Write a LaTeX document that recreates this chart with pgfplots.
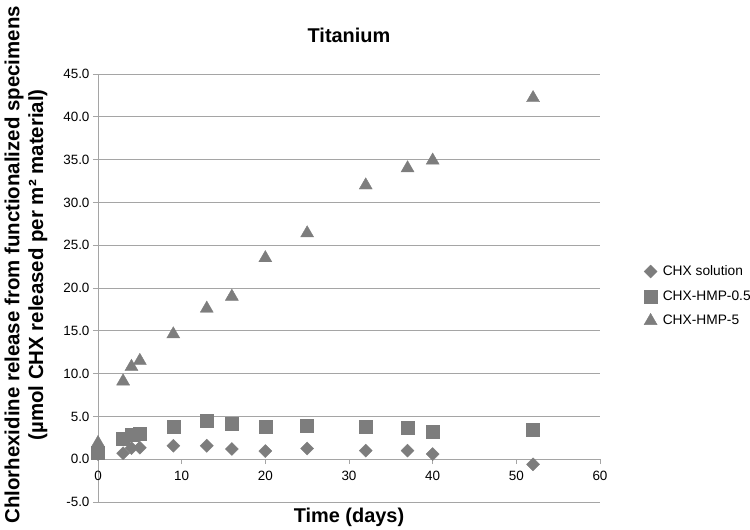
\documentclass[border=0pt]{standalone}
\usepackage{pgfplots}
\pgfplotsset{compat=1.18}
\usepackage{fontspec}
\setmainfont{Liberation Sans}
\definecolor{mk}{RGB}{125,125,125}
\definecolor{gr}{RGB}{165,165,165}
\begin{document}
\begin{tikzpicture}
\begin{axis}[
  at={(0,0)}, anchor=south west,
  scale only axis, width=502bp, height=428bp,
  xmin=0, xmax=60, ymin=-5, ymax=45,
  axis x line*=middle, axis y line*=left,
  hide obscured x ticks=false, hide obscured y ticks=false,
  axis line style={gr, line width=0.8pt},
  xtick={0,10,...,60}, ytick={-5,0,...,45},
  ymajorgrids, grid style={gr, line width=0.8pt},
  tick align=outside, major tick length=5bp,
  tick style={gr, line width=0.8pt},
  /pgf/number format/assume math mode=true,
  yticklabel style={/pgf/number format/.cd, fixed, fixed zerofill, precision=1},
  xticklabel style={yshift=-3bp},
  ticklabel style={font=\fontsize{13.5}{15}\selectfont},
  title={Titanium},
  title style={font=\fontsize{20}{22}\selectfont\bfseries, at={(axis description cs:0.5,1)}, anchor=base, yshift=26bp},
  xlabel={Time (days)},
  xlabel style={font=\fontsize{20}{22}\selectfont\bfseries, at={(axis description cs:0.5,0)}, anchor=base, yshift=-20bp},
  ylabel={Chlorhexidine release from functionalized specimens\\(µmol CHX released per m² material)},
  ylabel style={font=\fontsize{20.5}{24}\selectfont\bfseries, align=center, at={(axis description cs:-0.1434,0.554)}, anchor=center, rotate=0},
  legend style={at={(axis description cs:1.076,0.481)}, anchor=west, draw=none, fill=none,
    font=\fontsize{13.8}{16}\selectfont, row sep=9.5bp},
  legend cell align=left,
  legend image code/.code={\draw[#1] (0.32cm,0cm) -- plot coordinates {(0.32cm,0cm)}; \path (0cm,0cm) (0.32cm,0cm) ++(10bp,0pt);},
]
\addplot[only marks, mark=square*, mark size=4.6bp, mark options={rotate=45, fill=mk, draw=mk}] coordinates {
(0,0.6) (3,0.7) (4,1.3) (5,1.35) (9,1.57) (13,1.57) (16,1.2) (20,0.95) (25,1.25) (32,1.0) (37,1.0) (40,0.6) (52,-0.6)};
\addlegendentry{CHX solution}
\addplot[only marks, mark=square*, mark size=6.5bp, mark options={fill=mk, draw=mk}] coordinates {
(0,0.8) (3,2.4) (4,2.85) (5,3.0) (9,3.85) (13,4.5) (16,4.1) (20,3.85) (25,3.9) (32,3.8) (37,3.7) (40,3.2) (52,3.5)};
\addlegendentry{CHX-HMP-0.5}
\addplot[only marks, mark=triangle*, mark size=7.5bp, mark options={fill=mk, draw=mk}] coordinates {
(0,1.9) (3,9.1) (4,10.8) (5,11.5) (9,14.6) (13,17.6) (16,19.0) (20,23.5) (25,26.4) (32,32.0) (37,34.0) (40,34.9) (52,42.2)};
\addlegendentry{CHX-HMP-5}
\end{axis}
\pgfresetboundingbox
\path[use as bounding box] (-98bp,-28bp) rectangle (652bp,502bp);
\end{tikzpicture}
\end{document}
